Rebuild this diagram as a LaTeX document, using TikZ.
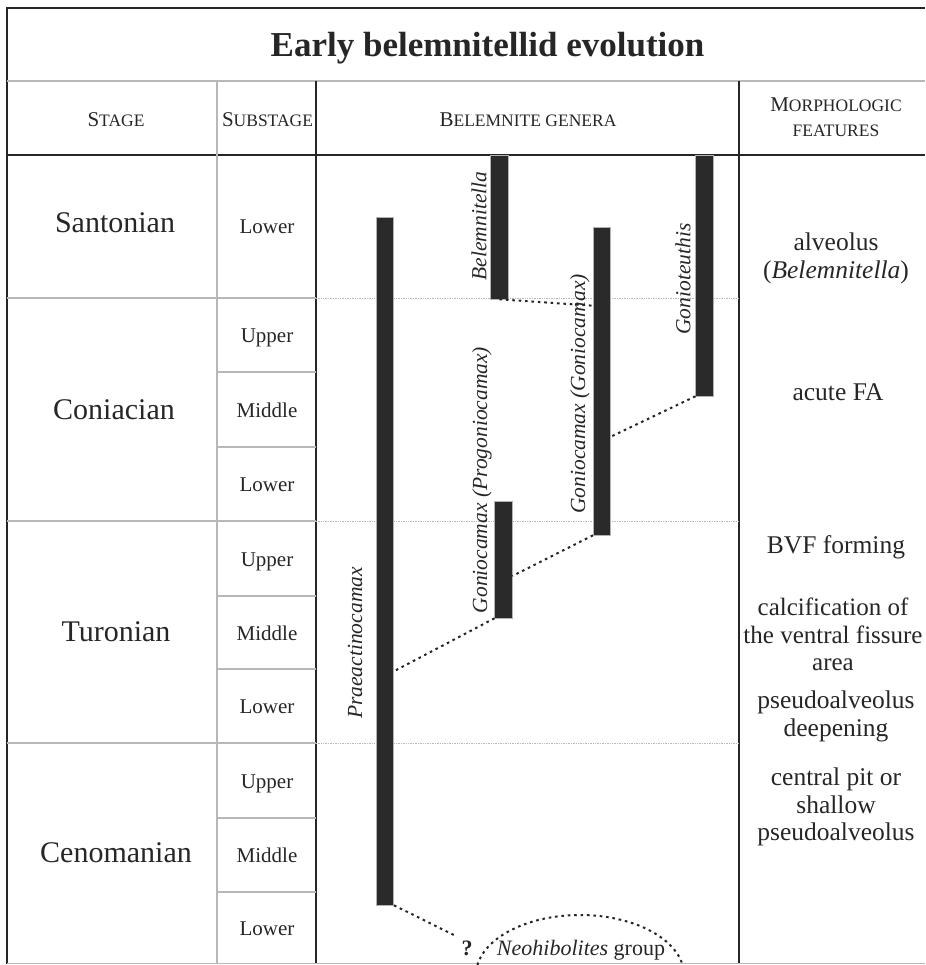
\documentclass[tikz,border=0pt]{standalone}
\usepackage{fontspec}
\setmainfont{Liberation Serif}
\usetikzlibrary{calc,shapes.geometric}

\definecolor{lineink}{HTML}{262626}
\definecolor{barink}{HTML}{2B2A2B}
\definecolor{gridgrey}{HTML}{B8B8B8}

% fake small caps: first letter, rest
\newcommand{\hsc}[2]{{\fontsize{21}{25}\selectfont #1}{\fontsize{17.5}{21}\selectfont #2}}

\begin{document}
\begin{tikzpicture}[x=1pt, y=-1pt]
      \tikzstyle{STY1} = [rectangle, fill=barink, draw=gray!60, line width=0.6pt, minimum width=17.5pt, inner sep=0pt]
      \tikzstyle{STY2} = [draw=lineink, line width=2pt, dash pattern=on 2.6pt off 3.8pt]
      \tikzstyle{STY3} = [font=\fontsize{30}{36}\selectfont, anchor=base, text=lineink]
      \tikzstyle{STY4} = [font=\fontsize{21}{25}\selectfont, anchor=base, text=lineink]
      \tikzstyle{STY5} = [font=\fontsize{21.5}{26}\selectfont\itshape, rotate=90, text=lineink]
      \tikzstyle{STY6} = [font=\fontsize{25.5}{27.5}\selectfont, align=center, anchor=north, inner sep=0pt, text=lineink]
      \tikzstyle{STY7} = [draw=gridgrey, line width=1.2pt]
      \tikzstyle{STY8} = [draw=gridgrey, line width=0.7pt, densely dotted]
      \tikzstyle{STY9} = [draw=lineink, line width=2pt]

      \useasboundingbox (0,0) rectangle (925,965);
      \clip (0,0) rectangle (925,965);

      %%%%% GRID
      \draw[STY9, line width=2.8pt] (925,8) -- (7,8) -- (7,964);
      \draw[STY7, line width=2pt] (7,81) -- (925,81);
      \draw[STY9] (7,155) -- (925,155);
      \draw[STY7] (217,81) -- (217,964);
      \draw[STY9, line width=1.5pt] (316,81) -- (316,964);
      \draw[STY9, line width=1.5pt] (739,81) -- (739,964);
      \draw[STY7] (7,963.5) -- (925,963.5);

      \foreach \y in {298,521,743} \draw[STY7] (7,\y) -- (316,\y);
      \foreach \y in {372,447,596,669,818,892} \draw[STY7] (217,\y) -- (316,\y);
      \foreach \y in {298,521,743} \draw[STY8] (316,\y) -- (739,\y);

      %%%%% HEADER
      \node[font=\fontsize{35}{40}\selectfont\bfseries, anchor=base, text=lineink] (t0) at (487.5,57) {Early belemnitellid evolution};

      \node[STY4] (h1) at (116,126.5) {\hsc{S}{TAGE}};
      \node[STY4] (h2) at (267.5,126.5) {\hsc{S}{UBSTAGE}};
      \node[STY4] (h3) at (528,126.5) {\hsc{B}{ELEMNITE GENERA}};
      \node[STY4, align=center, anchor=north, inner sep=0pt] (h4) at (836,98) {\hsc{M}{ORPHOLOGIC}\\\hsc{}{FEATURES}};

      %%%%% STAGES
      \node[STY3] (s1) at (115,233) {Santonian};
      \node[STY3] (s2) at (114,419) {Coniacian};
      \node[STY3] (s3) at (116,641) {Turonian};
      \node[STY3] (s4) at (116,862) {Cenomanian};

      %%%%% SUBSTAGES
      \foreach \y/\t [count=\i] in {226.5/Lower, 335/Upper, 409.5/Middle, 484/Lower, 558.5/Upper, 632.5/Middle, 706/Lower, 780.5/Upper, 855/Middle, 928/Lower}
        \node[STY4] (u\i) at (267,\y+7.5) {\t};

      %%%%% BARS
      \node[STY1, minimum height=688pt] (b1) at (385,561) {};
      \node[STY1, minimum height=144pt] (b2) at (499.5,227) {};
      \node[STY1, minimum height=308pt] (b3) at (602,381) {};
      \node[STY1, minimum height=241pt] (b4) at (704.5,275.5) {};
      \node[STY1, minimum height=117pt] (b5) at (503.5,559.5) {};

      \node[STY5] (g1) at (355,643) {Praeactinocamax};
      \node[STY5] (g2) at (479,226) {Belemnitella};
      \node[STY5] (g3) at (580,394) {Goniocamax (Goniocamax)};
      \node[STY5] (g4) at (683,279) {Gonioteuthis};
      \node[STY5] (g5) at (482,480) {Goniocamax (Progoniocamax)};

      \node[font=\fontsize{22}{26}\selectfont\bfseries, anchor=base, inner sep=1pt, text=lineink] (q0) at (467,955) {?};
      \node[STY2, ellipse, minimum width=208pt, minimum height=120pt, inner sep=0pt] (e0) at (580,975) {};
      \node[font=\fontsize{22}{26}\selectfont, anchor=base, text=lineink] (n0) at (581,955) {\textit{Neohibolites} group};

      %%%%% LINKS
      \draw[STY2]  (b2.south) edge ($(b3.north west)!0.256!(b3.south west)$);
      \draw[STY2]  (b4.south west) edge ($(b3.north east)!0.68!(b3.south east)$);
      \draw[STY2]  (b3.south west) edge ($(b5.north east)!0.64!(b5.south east)$);
      \draw[STY2]  (b5.south west) edge ($(b1.north east)!0.66!(b1.south east)$);
      \draw[STY2]  (b1.south east) edge ([shift={(-4,-3)}]q0.north west);

      %%%%% FEATURES
      \node[STY6] (f1) at (836,233) {alveolus\\(\textit{Belemnitella})};
      \node[STY6, anchor=base] (f2) at (838,400) {acute FA};
      \node[STY6, anchor=base] (f3) at (836,553) {BVF forming};
      \node[STY6, font=\fontsize{25}{27.5}\selectfont] (f4) at (833,598) {calcification of\\the ventral fissure\\area};
      \node[STY6] (f5) at (836,691) {pseudoalveolus\\deepening};
      \node[STY6] (f6) at (836,768) {central pit or\\shallow\\pseudoalveolus};
\end{tikzpicture}
\end{document}
